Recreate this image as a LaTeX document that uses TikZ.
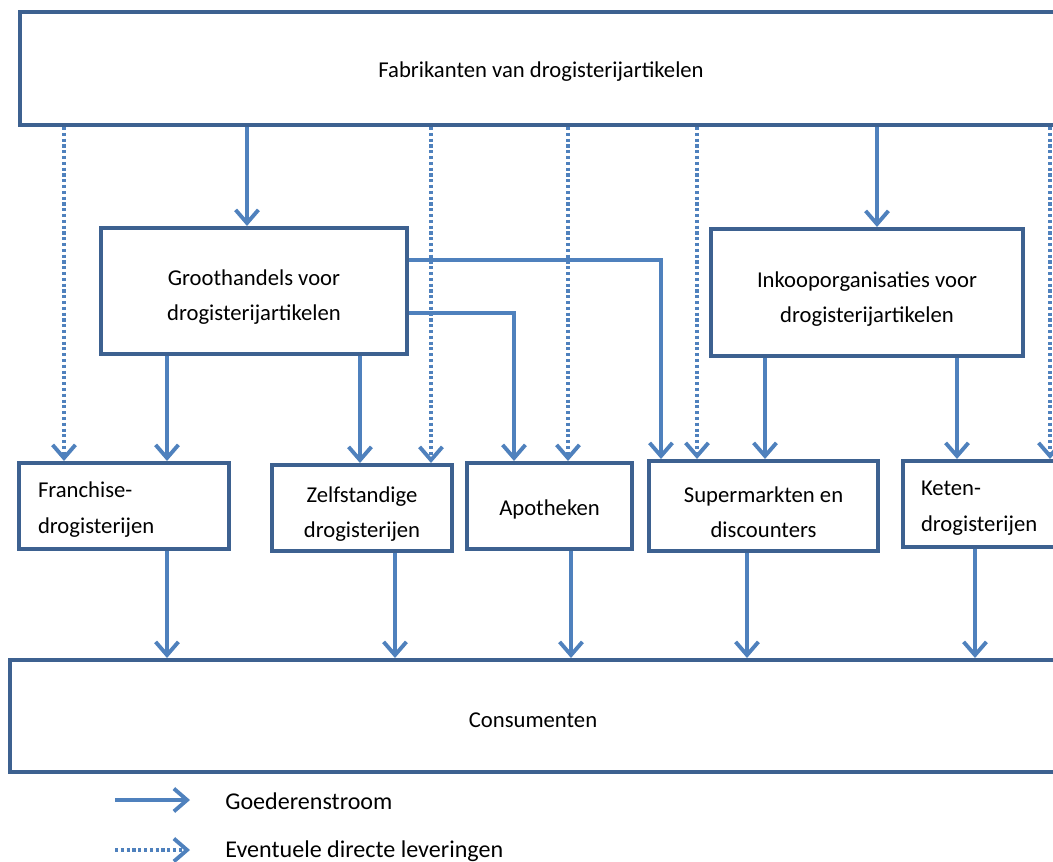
\documentclass[tikz,border=0pt]{standalone}
\usepackage{fontspec}
\setmainfont{Carlito}
\usetikzlibrary{arrows.meta,positioning,backgrounds}
\definecolor{boxblue}{HTML}{3D6190}
\definecolor{flowblue}{HTML}{4F81BD}
\tikzset{
  box/.style={draw=boxblue, line width=2.3pt, fill=white, inner sep=0pt,
    align=center, text height=13pt, font=\fontsize{12.9}{20}\selectfont},
  twoline/.style={box, text height=36pt},
  flow/.style={draw=flowblue, line width=2.2pt,
    -{Straight Barb[length=7.5pt,width=13pt]}},
  direct/.style={flow, dash pattern=on 1.8pt off 1.5pt},
  legtext/.style={anchor=west, inner sep=0pt, font=\fontsize{13.7}{20}\selectfont},
}

\begin{document}
\begin{tikzpicture}[x=0.02cm, y=-0.02cm]
  \useasboundingbox (0,0) rectangle (1053,861);
  \clip (0,0) rectangle (1053,861);

  % boxes
  \node[box, minimum width=20.84cm, minimum height=2.26cm] (fab) at (541,68.5) {Fabrikanten van drogisterijartikelen};
  \node[twoline, minimum width=6.12cm, minimum height=2.52cm] (gh) at (254,291) {Groothandels voor\\drogisterijartikelen};
  \node[twoline, minimum width=6.24cm, minimum height=2.54cm] (ink) at (867,292.5) {Inkooporganisaties voor\\drogisterijartikelen};

  \node[box, minimum width=4.2cm, minimum height=1.72cm, text width=3.44cm, align=left] (fr) at (124,506) {Franchise-\\drogisterijen};
  \node[twoline, minimum width=3.6cm, minimum height=1.72cm] (zs) at (362,508) {Zelfstandige\\drogisterijen};
  \node[box, minimum width=3.3cm, minimum height=1.72cm] (ap) at (549.5,506) {Apotheken};
  \node[twoline, minimum width=4.58cm, minimum height=1.8cm] (sm) at (763.5,506) {Supermarkten en\\discounters};
  \node[box, minimum width=3.7cm, minimum height=1.72cm, text width=2.98cm, align=left] (kt) at (995.5,504) {Keten-\\drogisterijen};

  \node[box, minimum width=20.92cm, minimum height=2.24cm] (cons) at (533,716) {Consumenten};

  % columns and rows for the connectors
  \foreach \n/\x in {c1/64, c2/167, c3/247, c4/360, c5/395, c6/431, c7/514, c8/568,
                     c9/571, c10/661, c11/697, c12/747, c13/765, c14/877, c15/957,
                     c16/975, c17/1050}
    \coordinate (\n) at (\x,0);
  \coordinate (ya) at (0,260);
  \coordinate (yb) at (0,313);

  \begin{scope}[on background layer]
    % fabrikanten
    \draw[flow] (fab.south -| c3) -- (gh.north -| c3);
    \draw[flow] (fab.south -| c14) -- (ink.north -| c14);
    \draw[direct] (fab.south -| c1) -- (fr.north -| c1);
    \draw[direct] (fab.south -| c6) -- (zs.north -| c6);
    \draw[direct] (fab.south -| c8) -- (ap.north -| c8);
    \draw[direct] (fab.south -| c11) -- (sm.north -| c11);
    \draw[direct] (fab.south -| c17) -- (kt.north -| c17);

    % groothandels
    \draw[flow] (gh.south -| c2) -- (fr.north -| c2);
    \draw[flow] (gh.south -| c4) -- (zs.north -| c4);
    \draw[flow] (gh.east |- yb) -| (ap.north -| c7);
    \draw[flow] (gh.east |- ya) -| (sm.north -| c10);

    % inkooporganisaties
    \draw[flow] (ink.south -| c13) -- (sm.north -| c13);
    \draw[flow] (ink.south -| c15) -- (kt.north -| c15);

    % naar consumenten
    \draw[flow] (fr.south -| c2) -- (cons.north -| c2);
    \draw[flow] (zs.south -| c5) -- (cons.north -| c5);
    \draw[flow] (ap.south -| c9) -- (cons.north -| c9);
    \draw[flow] (sm.south -| c12) -- (cons.north -| c12);
    \draw[flow] (kt.south -| c16) -- (cons.north -| c16);
  \end{scope}

  % legenda
  \coordinate (la) at (115,800);
  \coordinate (lb) at (190,800);
  \coordinate (lc) at (115,850);
  \coordinate (ld) at (190,850);
  \draw[flow] (la) -- (lb);
  \draw[direct] (lc) -- (ld);
  \node[legtext] (goed) at (225,801) {Goederenstroom};
  \node[legtext] (dir) at (225,851) {Eventuele directe leveringen};
\end{tikzpicture}
\end{document}
